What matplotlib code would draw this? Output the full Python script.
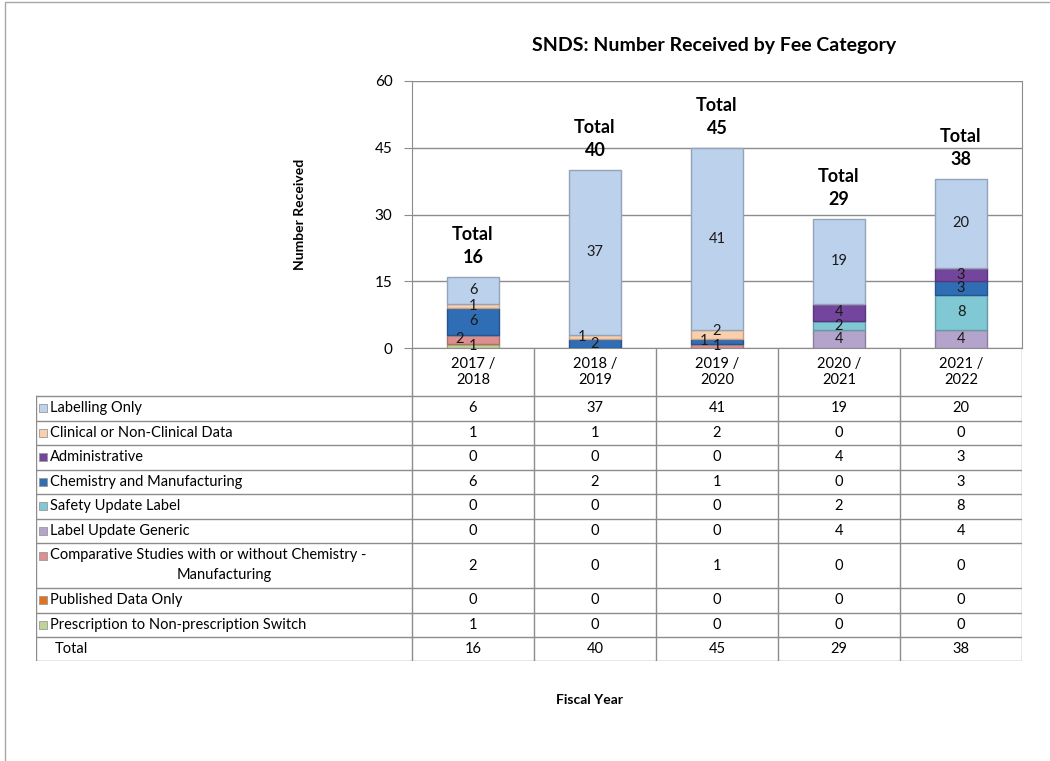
import numpy as np
import matplotlib
matplotlib.use("Agg")
import matplotlib.pyplot as plt
from matplotlib.patches import Rectangle
from matplotlib.colors import to_rgb

plt.rcParams['font.family'] = ['Lato', 'DejaVu Sans']

years = ['2017 /\n2018', '2018 /\n2019', '2019 /\n2020', '2020 /\n2021', '2021 /\n2022']

# table order (top to bottom)
categories = ['Labelling Only', 'Clinical or Non-Clinical Data', 'Administrative',
              'Chemistry and Manufacturing', 'Safety Update Label', 'Label Update Generic',
              'Comparative Studies with or without Chemistry -\nManufacturing',
              'Published Data Only', 'Prescription to Non-prescription Switch']
labelling = [6, 37, 41, 19, 20]
clinical = [1, 1, 2, 0, 0]
administrative = [0, 0, 0, 4, 3]
chemistry = [6, 2, 1, 0, 3]
safety = [0, 0, 0, 2, 8]
label_generic = [0, 0, 0, 4, 4]
comparative = [2, 0, 1, 0, 0]
published = [0, 0, 0, 0, 0]
prescription = [1, 0, 0, 0, 0]
series = [labelling, clinical, administrative, chemistry, safety,
          label_generic, comparative, published, prescription]
colors = ['#bcd1ec', '#f9cfae', '#74459d', '#2f6db5', '#7fc8d4',
          '#b4a3cb', '#dc8f8e', '#e2721e', '#bcd496']
totals = [sum(v) for v in zip(*series)]

W, H = 1050, 761
fig = plt.figure(figsize=(W / 100, H / 100), dpi=100)

def fx(px):
    return px / W

def fy(py):
    return 1 - py / H

# outer frame
fig.patches.append(Rectangle((fx(5), fy(800)), fx(1060), fy(2) - fy(800),
                             transform=fig.transFigure, fill=False,
                             edgecolor='#a6a6a6', lw=1))

left, right, top, bottom = 412, 1022, 81, 348
ax = fig.add_axes([fx(left), fy(bottom), fx(right - left), fy(top) - fy(bottom)])
x = np.arange(len(years))
grid_c = '#8c8c8c'

bottoms = np.zeros(len(years))
placed = [[] for _ in years]
for vals, col in zip(series[::-1], colors[::-1]):
    vals = np.array(vals, dtype=float)
    edge = tuple(c * 0.78 for c in to_rgb(col))
    ax.bar(x, vals, 0.42, bottom=bottoms, color=col, edgecolor=edge, lw=1, zorder=3)
    for xi, v, b in zip(x, vals, bottoms):
        if v > 0:
            ly0 = b + v / 2
            lx, ly = xi, ly0
            # nudge small labels so they don't sit on each other
            for dx, dy in ((0, 0), (-0.11, 0), (0, 0.8), (0.11, 0)):
                if all(abs(ly0 + dy - py) > 2.8 or abs(xi + dx - px_) > 0.08
                       for px_, py in placed[xi]):
                    lx, ly = xi + dx, ly0 + dy
                    break
            placed[xi].append((lx, ly))
            ax.text(lx, ly, f'{int(v)}', ha='center', va='center',
                    fontsize=10.5, color='#1a1a1a', zorder=4)
    bottoms += vals

for xi, t in zip(x, totals):
    ax.text(xi, t + 2.5, f'Total\n{t}', ha='center', va='bottom', fontsize=13,
            fontweight='bold', linespacing=1.4)

ax.set_xlim(-0.5, 4.5)
ax.set_ylim(0, 60)
ax.set_yticks([0, 15, 30, 45, 60])
ax.tick_params(axis='y', labelsize=11, length=6, color=grid_c, pad=8)
ax.set_xticks([])
ax.grid(axis='y', color=grid_c, lw=1, zorder=0)
for s in ['top', 'right', 'left', 'bottom']:
    ax.spines[s].set_color(grid_c)
ax.spines['top'].set_visible(False)

fig.text(fx(300), fy(214), 'Number Received', rotation=90, ha='center', va='center',
         fontsize=10, fontweight='bold')
fig.text(fx(714), fy(45), 'SNDS: Number Received by Fee Category', ha='center',
         va='center', fontsize=14, fontweight='bold')
fig.text(fx(590), fy(700), 'Fiscal Year', ha='center', va='center',
         fontsize=10, fontweight='bold')

# data table
tleft, tbottom = 36, 661
col_w = (right - left) / 5
xl = -0.5 - (left - tleft) / col_w
tax = fig.add_axes([fx(tleft), fy(tbottom), fx(right - tleft), fy(bottom) - fy(tbottom)])
tax.set_xlim(xl, 4.5)
tax.set_ylim(tbottom - bottom, 0)
tax.axis('off')

heights = [48] + [24.5] * 6 + [45] + [24.5] * 2 + [24]
edges = np.concatenate([[0], np.cumsum(heights)])
lc = dict(color=grid_c, lw=1)
for e in edges[1:]:
    tax.plot([xl, 4.5], [e, e], **lc)
for xv in np.arange(-0.5, 5, 1):
    tax.plot([xv, xv], [0, edges[-1]], **lc)
tax.plot([xl, xl], [edges[1], edges[-1]], **lc)

for xi, yr in zip(x, years):
    tax.text(xi, edges[1] / 2, yr, ha='center', va='center', fontsize=10.5,
             linespacing=1.2)

px = 1 / col_w
for i, (name, vals, col) in enumerate(zip(categories, series, colors)):
    y0, y1 = edges[i + 1], edges[i + 2]
    yc = (y0 + y1) / 2
    if '\n' in name:
        l1, l2 = name.split('\n')
        ym = y0 + 12.5
        tax.text(xl + 14 * px, ym, l1, ha='left', va='center', fontsize=10.5)
        tax.text((xl - 0.5) / 2, y0 + 32, l2, ha='center', va='center', fontsize=10.5)
    else:
        ym = yc
        tax.text(xl + 14 * px, ym, name, ha='left', va='center', fontsize=10.5)
    tax.add_patch(Rectangle((xl + 3 * px, ym - 4), 8 * px, 8, facecolor=col,
                            edgecolor='#999999', lw=0.6))
    for xi, v in zip(x, vals):
        tax.text(xi, yc, str(v), ha='center', va='center', fontsize=10.5)

yc = (edges[-2] + edges[-1]) / 2
tax.text(xl + 19 * px, yc, 'Total', ha='left', va='center', fontsize=10.5)
for xi, t in zip(x, totals):
    tax.text(xi, yc, str(t), ha='center', va='center', fontsize=10.5)

fig.savefig('out.png', dpi=100)
